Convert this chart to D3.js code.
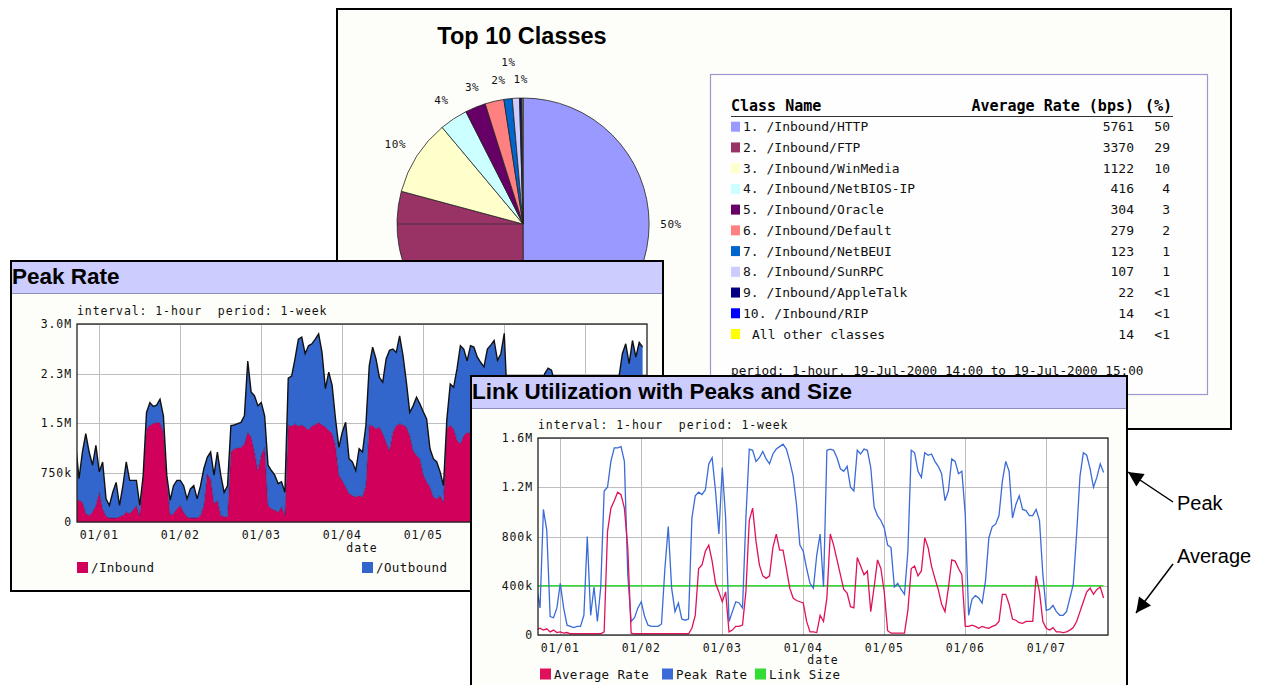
<!DOCTYPE html>
<html><head><meta charset="utf-8">
<script src="https://cdn.jsdelivr.net/npm/d3@7"></script>
<style>html,body{margin:0;padding:0;background:#fff;}svg{display:block;}text{white-space:pre;}</style>
</head><body>
<svg id="c" width="1268" height="685"></svg>
<script>
// ---------- DATA ----------
const classNames = ["/Inbound/HTTP","/Inbound/FTP","/Inbound/WinMedia","/Inbound/NetBIOS-IP","/Inbound/Oracle","/Inbound/Default","/Inbound/NetBEUI","/Inbound/SunRPC","/Inbound/AppleTalk","/Inbound/RIP","All other classes"];
const classRates = [5761,3370,1122,416,304,279,123,107,22,14,14];
const classPct = ["50","29","10","4","3","2","1","1","<1","<1","<1"];
const classColors = ["#9999ff","#993366","#ffffcc","#ccffff","#660066","#ff8080","#0066cc","#ccccff","#000080","#0000ff","#ffff00"];
const pieLabels = ["50%","29%","10%","4%","3%","2%","1%","1%","","",""];

const hourStart = -7;                 // first sample: 31 Dec, 17:00
const dayTicks = [0,24,48,72,96,120,144];
const dayLabels = ["01/01","01/02","01/03","01/04","01/05","01/06","01/07"];
const peakYTicks = [0,750,1500,2250,3000];
const peakYLabels = ["0","750k","1.5M","2.3M","3.0M"];
const linkYTicks = [0,400,800,1200,1600];
const linkYLabels = ["0","400k","800k","1.2M","1.6M"];

// Peak Rate chart (kbps), hourly
const inbound = [330,330,300,130,100,150,250,
450,200,90,60,60,60,80,100,150,130,180,250,
90,650,1410,1470,1490,1510,1500,1360,650,100,130,200,
250,150,80,60,60,60,100,250,730,650,280,330,
100,80,80,1060,1110,1120,1130,1180,1360,1290,1060,780,
1010,1130,250,200,180,150,230,100,1470,1450,1490,1450,
1470,1440,1390,1460,1470,1510,1470,1440,1390,1340,1160,710,
630,530,430,400,380,400,380,550,1470,1460,1410,1440,
1340,1210,1080,1360,1460,1490,1470,1440,1310,1080,1010,960,
710,610,530,380,350,400,300,1410,1470,1410,1240,1180,
1310,1360,1340,1350,1300,1250,1300,1200,1100,1150,1250,1300,
1400,200,150,120,130,110,140,160,200,250,300,400,
700,750,600,400,300,280,260,270,260,250,800,650,
200,120,100,110,90,80,90,120,200,350,500,650,
700,680,720,700,690,650];
const outbound = [850,325,760,1210,960,710,910,
310,710,260,190,390,540,170,450,760,500,450,380,
160,50,250,340,260,260,360,250,60,230,420,430,
380,400,270,440,490,290,450,560,250,410,430,730,
610,370,470,400,360,370,380,430,1080,680,850,980,
800,480,610,580,530,430,380,350,710,760,980,1320,
1330,1110,1280,1240,1300,1340,1100,580,880,730,400,420,
730,980,530,510,400,710,680,910,900,1190,1060,750,
780,1260,1520,1260,1110,1330,1050,680,350,680,880,830,
960,950,580,580,560,360,250,150,620,630,1080,1490,
1310,1080,1330,1300,1200,1170,1050,1420,1580,1600,1200,1250,
1460,1500,750,980,1070,890,1160,1540,1700,1750,1500,1700,
1550,1580,1700,1700,1600,1720,1540,1680,1740,1600,500,50,
400,530,600,490,560,620,810,1180,1600,1750,1700,1900,
2000,1720,2030,1800,2030,2000];

// Link utilization chart (kbps), hourly
const linkPeak = [390,220,1020,850,150,140,220,
420,220,80,70,60,70,70,160,800,160,390,110,
390,1170,1200,1410,1520,1520,1530,1410,490,110,140,220,
270,150,80,70,70,70,90,540,880,380,190,260,
130,120,130,950,1130,1160,1140,1180,1390,1440,1170,820,
1360,950,110,190,270,260,220,950,1510,1500,1410,1440,
1490,1430,1390,1470,1510,1530,1550,1510,1410,1290,1060,730,
680,540,420,380,650,820,390,1500,1510,1500,1440,1350,
1330,1370,1200,1170,1500,1470,1510,1500,1360,1040,970,930,
870,730,710,390,420,370,330,680,1500,1480,1330,1280,
1480,1460,1470,1410,1370,1310,1090,1170,1430,1410,1310,1330,
980,160,290,320,300,260,440,790,880,900,970,1250,
1410,1330,950,1060,1130,1020,1010,970,970,1020,930,490,
200,210,240,190,160,160,190,300,410,820,1290,1480,
1460,1350,1200,1280,1390,1320];
const linkAvg = [40,55,40,50,25,40,20,
25,15,20,10,10,10,10,10,10,10,10,10,
10,25,840,1030,1090,1160,1140,1030,710,15,10,10,
10,10,10,10,10,10,10,10,10,10,10,10,
10,10,10,55,160,540,570,680,730,600,420,350,
270,350,25,40,70,70,80,350,930,1030,760,570,
480,460,480,710,820,690,690,540,380,300,280,270,
260,110,25,25,20,160,110,300,820,730,610,490,
370,340,230,220,630,560,490,520,190,390,610,540,
350,35,15,15,15,15,15,200,540,560,480,520,
790,710,560,460,370,250,190,380,610,600,540,490,
70,70,80,70,55,70,60,55,70,80,110,330,
330,250,130,120,100,95,110,110,110,480,350,110,
55,40,60,25,25,20,25,40,60,110,190,270,
350,380,330,370,390,300];
const linkSizeValue = 400;

// ---------- DRAW ----------
const SANS = "'Liberation Sans', Arial, Helvetica, sans-serif";
const MONO = "'DejaVu Sans Mono', monospace";
const svg = d3.select("#c");
const defs = svg.append("defs");

// ===== Panel: Top 10 Classes =====
svg.append("rect").attr("x",337).attr("y",9).attr("width",894).attr("height",420)
  .attr("fill","#fdfdf9").attr("stroke","#000").attr("stroke-width",2);
svg.append("text").attr("x",522).attr("y",44).attr("text-anchor","middle")
  .attr("font-family",SANS).attr("font-weight","bold").attr("font-size",23.5).text("Top 10 Classes");

const R = 126;
const pieG = svg.append("g").attr("transform","translate(523,224)");
const pieArcs = d3.pie().sort(null).value(d=>d)(classRates);
const arc = d3.arc().innerRadius(0).outerRadius(R);
pieG.selectAll("path.slice").data(pieArcs).join("path").attr("class","slice")
  .attr("d",arc).attr("fill",(d,i)=>classColors[i]).attr("stroke","#222").attr("stroke-width",0.8);
// horizontal radius line seen in the original rendering
pieG.append("line").attr("x1",-R).attr("x2",0).attr("y1",0).attr("y2",0).attr("stroke","#333").attr("stroke-width",0.8);
const labelArc = d3.arc().innerRadius(R+22).outerRadius(R+22);
const labelNudge = [[0,0],[0,0],[-3,0],[0,0],[5,0],[9,0],[3,-15],[6,3],[0,0],[0,0],[0,0]];
pieG.selectAll("text.pl").data(pieArcs.filter((d,i)=>i!==1)).join("text").attr("class","pl")
  .attr("x",d=>labelArc.centroid(d)[0]+labelNudge[d.index][0])
  .attr("y",d=>labelArc.centroid(d)[1]+labelNudge[d.index][1])
  .attr("dy","0.35em").attr("text-anchor","middle")
  .attr("font-family",MONO).attr("font-size",11).attr("letter-spacing",0.6).attr("fill","#111")
  .text(d=>pieLabels[d.index]);

// legend table
svg.append("rect").attr("x",710.5).attr("y",74.5).attr("width",497).attr("height",320)
  .attr("fill","#fefefe").attr("stroke","#9999cc").attr("stroke-width",1.2);
const hdr = svg.append("g").attr("font-family",MONO).attr("font-weight","bold").attr("font-size",15).attr("fill","#000");
hdr.append("text").attr("x",731).attr("y",111).text("Class Name");
hdr.append("text").attr("x",1134).attr("y",111).attr("text-anchor","end").text("Average Rate (bps)");
hdr.append("text").attr("x",1172).attr("y",111).attr("text-anchor","end").text("(%)");
svg.append("line").attr("x1",731).attr("x2",1173).attr("y1",116.5).attr("y2",116.5).attr("stroke","#333").attr("stroke-width",1);
const rowY = d3.scaleLinear().domain([0,10]).range([126.7,334]);
const rows = svg.append("g").attr("font-family",MONO).attr("font-size",13).attr("fill","#111");
classNames.forEach((n,i)=>{
  const cy = rowY(i);
  rows.append("rect").attr("x",731).attr("y",cy-5).attr("width",9).attr("height",10).attr("fill",classColors[i]);
  rows.append("text").attr("x",i<10?743:752).attr("y",cy+4.5).text(i<10?`${i+1}. ${n}`:n);
  rows.append("text").attr("x",1134).attr("y",cy+4.5).attr("text-anchor","end").text(classRates[i]);
  rows.append("text").attr("x",1170).attr("y",cy+4.5).attr("text-anchor","end").text(classPct[i]);
});
rows.append("text").attr("x",731).attr("y",375).attr("font-size",12.7)
  .text("period: 1-hour, 19-Jul-2000 14:00 to 19-Jul-2000 15:00");

// ===== generic time chart panel =====
function panel(p){
  const g = svg.append("g");
  g.append("rect").attr("x",p.x0+1).attr("y",p.y0+1).attr("width",p.x1-p.x0-2).attr("height",p.y1-p.y0-2)
    .attr("fill","#fdfdf9").attr("stroke","#000").attr("stroke-width",2);
  g.append("rect").attr("x",p.x0+2).attr("y",p.y0+2).attr("width",p.x1-p.x0-4).attr("height",31).attr("fill","#ccccff");
  g.append("line").attr("x1",p.x0+2).attr("x2",p.x1-2).attr("y1",p.y0+33.5).attr("y2",p.y0+33.5).attr("stroke","#8c8cc0");
  g.append("text").attr("x",p.x0+2).attr("y",p.y0+24).attr("font-family",SANS).attr("font-weight","bold")
    .attr("font-size",22.5).attr("fill","#000").text(p.title);
  g.append("text").attr("x",p.px0).attr("y",p.py1-9).attr("font-family",MONO).attr("font-size",11.5)
    .attr("letter-spacing",0.9).attr("fill","#111").text("interval: 1-hour  period: 1-week");
  g.append("rect").attr("x",p.px0).attr("y",p.py1).attr("width",p.px1-p.px0).attr("height",p.py0-p.py1).attr("fill","#fff");
  const x = d3.scaleLinear().domain([-6.6,162.3]).range([p.px0,p.px1]);
  const y = d3.scaleLinear().domain([0,p.ymax]).range([p.py0,p.py1]);
  const grid = g.append("g").attr("stroke","#bdbdbd").attr("stroke-width",1);
  dayTicks.forEach(t=>grid.append("line").attr("x1",Math.round(x(t))+0.5).attr("x2",Math.round(x(t))+0.5).attr("y1",p.py1).attr("y2",p.py0));
  p.yTicks.forEach(t=>grid.append("line").attr("x1",p.px0).attr("x2",p.px1).attr("y1",Math.round(y(t))+0.5).attr("y2",Math.round(y(t))+0.5));
  const cid = "clip"+p.id;
  defs.append("clipPath").attr("id",cid).append("rect").attr("x",p.px0).attr("y",p.py1-2).attr("width",p.px1-p.px0).attr("height",p.py0-p.py1+2);
  const plot = g.append("g").attr("clip-path",`url(#${cid})`);
  p.draw(plot,x,y);
  g.append("rect").attr("x",p.px0).attr("y",p.py1).attr("width",p.px1-p.px0).attr("height",p.py0-p.py1)
    .attr("fill","none").attr("stroke","#222").attr("stroke-width",1.3);
  const lab = g.append("g").attr("font-family",MONO).attr("font-size",11.5).attr("letter-spacing",0.9).attr("fill","#111");
  p.yTicks.forEach((t,i)=>lab.append("text").attr("x",p.px0-5).attr("y",y(t)).attr("dy","0.35em").attr("text-anchor","end").text(p.yLabels[i]));
  // tick labels lying under a panel drawn later are not shown in the original
  dayTicks.forEach((t,i)=>{ if (x(t) < p.labelMaxX) lab.append("text").attr("x",x(t)).attr("y",p.py0+17).attr("text-anchor","middle").text(dayLabels[i]); });
  lab.append("text").attr("x",(p.px0+p.px1)/2).attr("y",p.py0+p.dateDy).attr("text-anchor","middle").text("date");
  p.legend.forEach(l=>{
    lab.append("rect").attr("x",l.x).attr("y",p.py0+p.legendDy-10).attr("width",11).attr("height",11).attr("fill",l.color);
    lab.append("text").attr("x",l.x+14).attr("y",p.py0+p.legendDy).attr("font-size",12.5).attr("letter-spacing",0.4).text(l.label);
  });
  return g;
}

// ===== Peak Rate =====
const peakRows = inbound.map((v,i)=>({hour:hourStart+i, inbound:v, outbound:outbound[i]}));
const peakStack = d3.stack().keys(["inbound","outbound"])(peakRows);
const stackColors = {inbound:"#d1005a", outbound:"#3366cc"};
panel({id:"peak", title:"Peak Rate", x0:10, y0:260, x1:664, y1:592,
  px0:77, px1:647, py0:522, py1:324, ymax:3000, yTicks:peakYTicks, yLabels:peakYLabels,
  labelMaxX:460, legendDy:50, dateDy:29.5,
  legend:[{x:77,color:stackColors.inbound,label:"/Inbound"},{x:362,color:stackColors.outbound,label:"/Outbound"}],
  draw:(g,x,y)=>{
    const area = d3.area().x(d=>x(d.data.hour)).y0(d=>y(d[0])).y1(d=>y(d[1]));
    g.selectAll("path.a").data(peakStack).join("path").attr("class","a")
      .attr("d",area).attr("fill",d=>stackColors[d.key]);
    g.append("path").datum(peakStack[0]).attr("fill","none").attr("stroke","#1a1a55").attr("stroke-opacity",0.55).attr("stroke-width",0.8)
      .attr("d",d3.line().x(d=>x(d.data.hour)).y(d=>y(d[1])));
    g.append("path").datum(peakStack[1]).attr("fill","none").attr("stroke","#111").attr("stroke-width",1.4)
      .attr("d",d3.line().x(d=>x(d.data.hour)).y(d=>y(d[1])));
  }});

// ===== Link Utilization =====
const linkColors = {avg:"#e0105a", peak:"#3a6bd8", size:"#33dd33"};
panel({id:"link", title:"Link Utilization with Peaks and Size", x0:470, y0:375, x1:1128, y1:700,
  px0:538, px1:1108, py0:635, py1:438, ymax:1600, yTicks:linkYTicks, yLabels:linkYLabels,
  labelMaxX:2000, legendDy:43.5, dateDy:28.5,
  legend:[{x:540,color:linkColors.avg,label:"Average Rate"},{x:662,color:linkColors.peak,label:"Peak Rate"},{x:755,color:linkColors.size,label:"Link Size"}],
  draw:(g,x,y)=>{
    const ln = d3.line().x((d,i)=>x(hourStart+i)).y(d=>y(d));
    g.append("path").datum(linkAvg.map(()=>linkSizeValue)).attr("fill","none").attr("stroke",linkColors.size).attr("stroke-width",1.4).attr("d",ln);
    g.append("path").datum(linkPeak).attr("fill","none").attr("stroke",linkColors.peak).attr("stroke-width",1.3).attr("d",ln);
    g.append("path").datum(linkAvg).attr("fill","none").attr("stroke",linkColors.avg).attr("stroke-width",1.3).attr("d",ln);
  }});

// ===== annotations =====
defs.append("marker").attr("id","ah").attr("viewBox","0 0 10 10").attr("refX",10).attr("refY",5)
  .attr("markerWidth",20).attr("markerHeight",15).attr("markerUnits","userSpaceOnUse").attr("orient","auto")
  .append("path").attr("d","M0,0L10,5L0,10z").attr("fill","#000");
svg.append("line").attr("x1",1173).attr("y1",502).attr("x2",1128).attr("y2",472).attr("stroke","#000").attr("stroke-width",1.5).attr("marker-end","url(#ah)");
svg.append("line").attr("x1",1173).attr("y1",564).attr("x2",1136).attr("y2",613).attr("stroke","#000").attr("stroke-width",1.5).attr("marker-end","url(#ah)");
svg.append("text").attr("x",1177).attr("y",510).attr("font-family",SANS).attr("font-size",20).attr("fill","#000").text("Peak");
svg.append("text").attr("x",1177).attr("y",563).attr("font-family",SANS).attr("font-size",20).attr("fill","#000").text("Average");
</script>
</body></html>
